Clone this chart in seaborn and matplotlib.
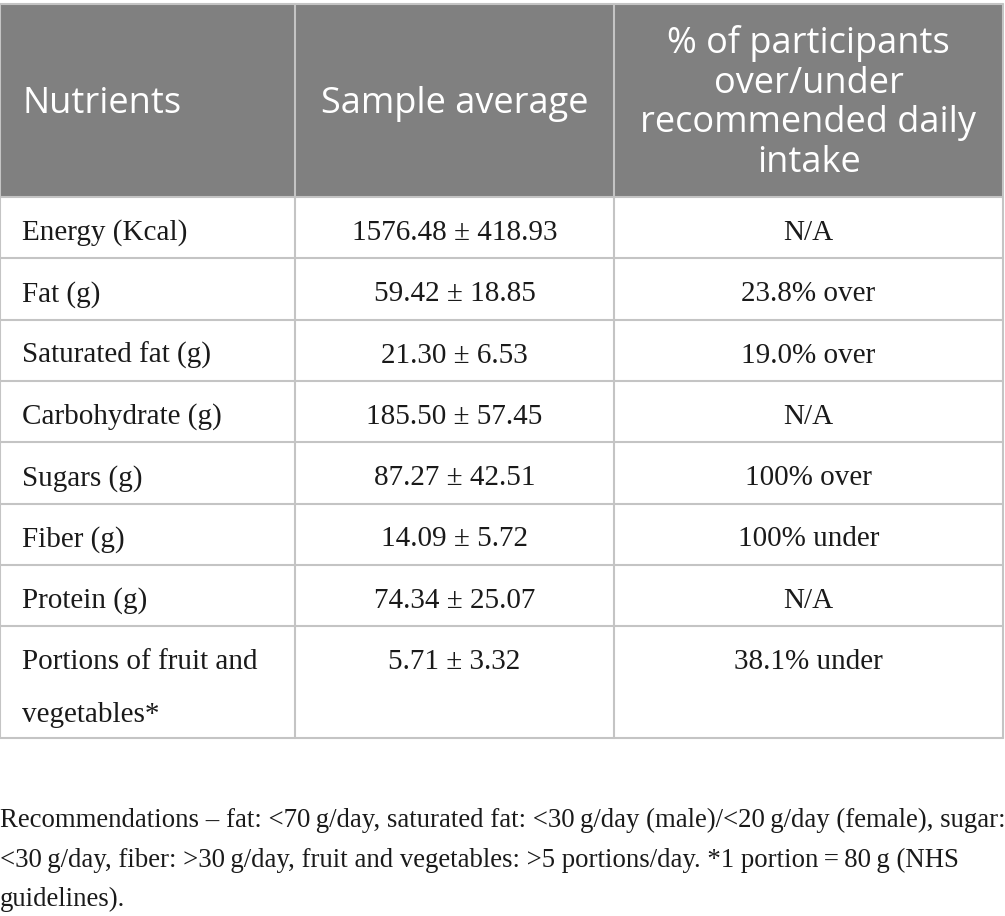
import seaborn as sns
import matplotlib.pyplot as plt

nutrients = ["Energy (Kcal)", "Fat (g)", "Saturated fat (g)", "Carbohydrate (g)",
             "Sugars (g)", "Fiber (g)", "Protein (g)", "Portions of fruit and\nvegetables*"]
means = [1576.48, 59.42, 21.30, 185.50, 87.27, 14.09, 74.34, 5.71]
sds = [418.93, 18.85, 6.53, 57.45, 42.51, 5.72, 25.07, 3.32]
pct = ["N/A", "23.8% over", "19.0% over", "N/A", "100% over", "100% under", "N/A", "38.1% under"]
headers = ["Nutrients", "Sample average",
           "% of participants\nover/under\nrecommended daily\nintake"]
note = ("Recommendations \u2013 fat: <70\u2009g/day, saturated fat: <30\u2009g/day (male)/<20\u2009g/day (female), sugar:\n"
        "<30\u2009g/day, fiber: >30\u2009g/day, fruit and vegetables: >5 portions/day. *1 portion\u2009=\u200980\u2009g (NHS\n"
        "guidelines).")

sns.set_style("white")
fig = plt.figure(figsize=(10.05, 9.16), dpi=100)
ax = fig.add_axes([0, 0, 1, 1])
ax.set_xlim(0, 1005)
ax.set_ylim(916, 0)
ax.axis("off")

cols = [0, 295, 614, 1003]
top, head_bot = 4, 197
row_h = 61.3
bottoms = [head_bot + row_h * (i + 1) for i in range(len(nutrients) - 1)] + [738]
lines = [head_bot] + bottoms
grid = "#c4c4c4"

ax.add_patch(plt.Rectangle((0, top), cols[-1], head_bot - top, color="#808080", lw=0))
for y in lines:
    ax.plot([0, cols[-1]], [y, y], color=grid, lw=1.5)
ax.plot([0, cols[-1]], [top, top], color=grid, lw=1.5)
for x in cols:
    ax.plot([x, x], [top, 738], color=grid, lw=1.5)

hfont = dict(family="Open Sans", color="white", fontsize=26)
ax.text(22, 104, headers[0], ha="left", va="center", **hfont)
ax.text((cols[1] + cols[2]) / 2, 104, headers[1], ha="center", va="center", **hfont)
ax.text((cols[2] + cols[3]) / 2, 103, headers[2], ha="center", va="center",
        linespacing=1.13, **hfont)

bfont = dict(family="Liberation Serif", color="#1a1a1a", fontsize=21)
for i, (n, m, s, p) in enumerate(zip(nutrients, means, sds, pct)):
    y0 = lines[i] + 36
    for k, part in enumerate(n.split("\n")):
        ax.text(22, y0 + 53 * k, part, ha="left", va="center", **bfont)
    ax.text((cols[1] + cols[2]) / 2, y0, f"{m:.2f} \u00b1 {s:.2f}", ha="center", va="center", **bfont)
    ax.text((cols[2] + cols[3]) / 2, y0, p, ha="center", va="center", **bfont)

ax.text(0, 808, note, ha="left", va="top", linespacing=1.75,
        family="Liberation Serif", color="#1a1a1a", fontsize=19.3)

fig.savefig("out.png", dpi=100)
